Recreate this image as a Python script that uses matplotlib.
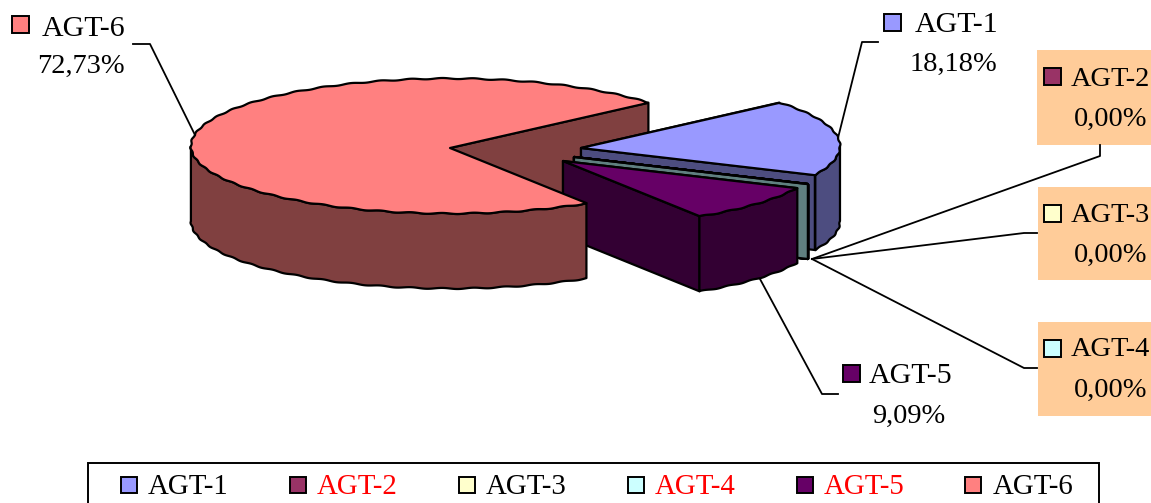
import numpy as np
import matplotlib
matplotlib.use("Agg")
import matplotlib.pyplot as plt
from matplotlib.patches import Polygon, Rectangle

categories = ["AGT-1", "AGT-2", "AGT-3", "AGT-4", "AGT-5", "AGT-6"]
values = [18.18, 0.00, 0.00, 0.00, 9.09, 72.73]

top_colors = ["#9999ff", "#993366", "#ffffcc", "#ccffff", "#660066", "#ff8080"]
side_colors = ["#4d4d80", "#4d1a33", "#808066", "#608080", "#330033", "#804040"]
legend_text_colors = ["black", "red", "black", "red", "red", "black"]

plt.rcParams["font.family"] = ["Liberation Serif", "DejaVu Serif"]
fig = plt.figure(figsize=(11.51, 5.03), dpi=100)
ax = fig.add_axes([0, 0, 1, 1])
ax.set_xlim(0, 1151)
ax.set_ylim(503, 0)
ax.axis("off")

A, B, DEPTH = 259.0, 67.5, 75.0
START = 40.0
LW = 1.6
ELLIPSE_SHIFT = -2.0   # ellipse centre sits slightly above the apex
WAVE_AMP, WAVE_N = 0.55, 52   # scalloped rim of the original renderer
# apex of each slice on the page
apex = [(581, 148), (574, 157), (574, 157), (574, 157), (563, 161), (450, 148)]

def pt(c, deg, dy=0.0, wave=True):
    r = np.radians(deg)
    s = WAVE_AMP * np.sin(WAVE_N * r) if wave else 0.0
    x = c[0] + (A + s) * np.cos(r)
    y = c[1] + ELLIPSE_SHIFT - (B + s) * np.sin(r) + dy
    return np.column_stack([x, y])

def poly(xy, fc, z):
    ax.add_patch(Polygon(xy, closed=True, fc=fc, ec="black", lw=LW, joinstyle="round", zorder=z))

# slice angles, clockwise from START
edges = START - np.cumsum([0] + values) * 3.6

def cut_face(i, deg, z):
    c = apex[i]
    p = pt(c, np.array([deg]), wave=False)[0]
    poly([c, p, p + [0, DEPTH], (c[0], c[1] + DEPTH)], side_colors[i], z)

def wall_and_top(i, z):
    c = apex[i]
    arc = np.linspace(edges[i + 1], edges[i], 1200)
    vis = arc[np.sin(np.radians(arc)) <= 0]
    if len(vis) > 1:
        poly(np.vstack([pt(c, vis), pt(c, vis[::-1], DEPTH)]), side_colors[i], z)
    poly(np.vstack([[c], pt(c, arc)]), top_colors[i], z + 0.5)

# the large slice's far cut face lies behind everything
cut_face(5, edges[6], 1)
z = 2
for i in [0, 1, 2, 3, 4]:
    cut_face(i, edges[i], z)
    cut_face(i, edges[i + 1], z + 0.2)
    wall_and_top(i, z + 0.4)
    z += 2
# the large slice's front rim overlaps the corner of AGT-5
wall_and_top(5, z)

# label boxes
for (x0, y0, x1, y1) in [(1037, 50, 1152, 145), (1038, 187, 1152, 280), (1038, 322, 1152, 416)]:
    ax.add_patch(Rectangle((x0, y0), x1 - x0, y1 - y0, fc="#ffcc99", ec="none", zorder=30))

# leader lines
leaders = [
    [(838, 138), (862, 42), (878, 42)],
    [(1100, 145), (1100, 156), (812, 259)],
    [(1037, 233), (1024, 233), (812, 259)],
    [(1037, 368), (1024, 368), (812, 259)],
    [(760, 279), (822, 394), (838, 394)],
    [(195, 135), (150, 44), (133, 44)],
]
for l in leaders:
    xs, ys = zip(*l)
    ax.plot(xs, ys, color="black", lw=1.3, zorder=31)

def square(x, y, c, s=17):
    ax.add_patch(Rectangle((x, y), s, s, fc=c, ec="black", lw=1.4, zorder=32))

# (square x, square y, name x, name y, value right x, value y, name font size)
label_pos = [
    (884, 14, 915, 25, 997, 64, 21.5),
    (1044, 68, 1071, 79, 1147, 119, 20.4),
    (1044, 205, 1071, 216, 1147, 255, 20.4),
    (1044, 340, 1071, 350, 1147, 390, 20.4),
    (843, 365, 869, 376, 945, 416, 21.5),
    (12, 16, 42, 29, 125, 66, 21.5),
]
for i, (sx, sy, nx, ny, vx, vy, fs) in enumerate(label_pos):
    square(sx, sy, top_colors[i])
    ax.text(nx, ny, categories[i], fontsize=fs, va="center", ha="left", zorder=33)
    ax.text(vx, vy, f"{values[i]:.2f}%".replace(".", ","), fontsize=20.5, va="center", ha="right", zorder=33)

# legend
ax.add_patch(Rectangle((88, 463), 1011, 60, fc="white", ec="black", lw=1.4, zorder=30))
leg_sq = [121, 290, 459, 628, 797, 965]
leg_tx = [148, 317, 486, 655, 824, 993]
for i in range(6):
    square(leg_sq[i], 477, top_colors[i], s=16)
    ax.text(leg_tx[i], 487, categories[i], fontsize=20.8, color=legend_text_colors[i], va="center", ha="left", zorder=33)

fig.savefig("out.png", dpi=100)
